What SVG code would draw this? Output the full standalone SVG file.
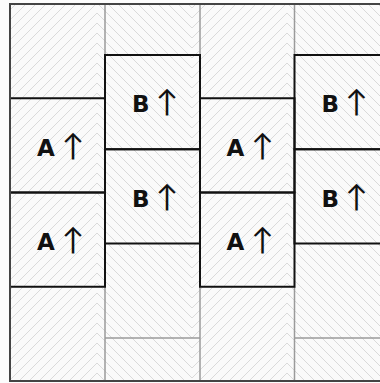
<svg xmlns="http://www.w3.org/2000/svg" width="380" height="383" viewBox="0 0 380 383">
  <defs>
    <pattern id="hatchA" patternUnits="userSpaceOnUse" x="0" y="0" width="10" height="10">
      <rect width="10" height="10" fill="#fafafa"/>
      <path d="M-1,11 L11,-1 M-1,1 L1,-1 M9,11 L11,9" stroke="#dadada" stroke-width="1" fill="none"/>
    </pattern>
    <pattern id="hatchB" patternUnits="userSpaceOnUse" x="0" y="0" width="10" height="10">
      <rect width="10" height="10" fill="#fafafa"/>
      <path d="M3,-1 L11,7 M-1,5 L5,11" stroke="#dadada" stroke-width="1" fill="none"/>
    </pattern>
  </defs>
  <style>
    .grid { stroke: #9a9a9a; stroke-width: 1.5; fill: none; }
    .block { stroke: #111; stroke-width: 2; fill: none; }
    .frame { stroke: #444; stroke-width: 2; fill: none; }
    .label { font-family: "DejaVu Sans", "Liberation Sans", sans-serif; font-weight: bold; font-size: 23px; fill: #111; }
    .arr { font-family: Lato, "DejaVu Sans", sans-serif; font-weight: normal; font-size: 30px; text-anchor: middle; }
  </style>

  <rect width="380" height="383" fill="#fcfcfc"/>

  <g id="hatching">
    <rect x="10" y="4" width="87" height="377" fill="url(#hatchA)"/>
    <rect x="97" y="4" width="95" height="377" fill="url(#hatchB)"/>
    <rect x="192" y="4" width="95" height="377" fill="url(#hatchA)"/>
    <rect x="287" y="4" width="102" height="377" fill="url(#hatchB)"/>
  </g>

  <g id="grid">
    <path class="grid" d="M105,4 V55 M200,4 V55 M294.5,4 V55 M105,286.75 V381 M200,286.75 V381 M294.5,286.75 V381 M105,338 H200 M294.5,338 H389"/>
  </g>

  <g id="A1">
    <rect class="block" x="10" y="98.25" width="95" height="94.25"/>
    <text class="label" x="37" y="155.7">A <tspan class="arr" x="73">↑</tspan></text>
  </g>
  <g id="A2">
    <rect class="block" x="10" y="192.5" width="95" height="94.25"/>
    <text class="label" x="37" y="250">A <tspan class="arr" x="73">↑</tspan></text>
  </g>
  <g id="B1">
    <rect class="block" x="105" y="55" width="95" height="94.25"/>
    <text class="label" x="132" y="112.4">B <tspan class="arr" x="167">↑</tspan></text>
  </g>
  <g id="B2">
    <rect class="block" x="105" y="149.25" width="95" height="94.25"/>
    <text class="label" x="132" y="206.7">B <tspan class="arr" x="167">↑</tspan></text>
  </g>
  <g id="A3">
    <rect class="block" x="200" y="98.25" width="94.5" height="94.25"/>
    <text class="label" x="226.5" y="155.7">A <tspan class="arr" x="262.5">↑</tspan></text>
  </g>
  <g id="A4">
    <rect class="block" x="200" y="192.5" width="94.5" height="94.25"/>
    <text class="label" x="226.5" y="250">A <tspan class="arr" x="262.5">↑</tspan></text>
  </g>
  <g id="B3">
    <rect class="block" x="294.5" y="55" width="95" height="94.25"/>
    <text class="label" x="321.5" y="112.4">B <tspan class="arr" x="356.5">↑</tspan></text>
  </g>
  <g id="B4">
    <rect class="block" x="294.5" y="149.25" width="95" height="94.25"/>
    <text class="label" x="321.5" y="206.7">B <tspan class="arr" x="356.5">↑</tspan></text>
  </g>

  <g id="connectors"></g>

  <rect class="frame" x="10" y="4" width="380" height="377"/>
</svg>
